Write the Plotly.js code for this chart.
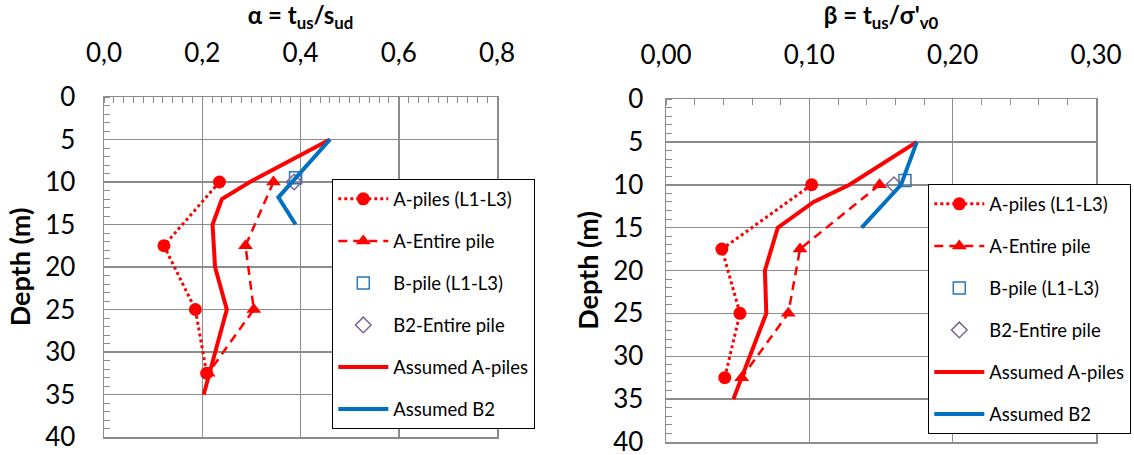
<!DOCTYPE html>
<html><head><meta charset="utf-8">
<script src="https://cdn.plot.ly/plotly-3.0.1.min.js"></script>
<style>html,body{margin:0;padding:0;background:#fff}#chart{width:1134px;height:455px}</style>
</head><body><div id="chart"></div>
<script>
// ---- Series names (legend) ----
const seriesNames = ['A-piles (L1-L3)', 'A-Entire pile', 'B-pile (L1-L3)', 'B2-Entire pile', 'Assumed A-piles', 'Assumed B2'];

// ---- Left chart: alpha = t_us / s_ud ----
const aPilesDepth = [10, 17.5, 25, 32.5];
const aPilesAlpha = [0.235, 0.122, 0.186, 0.209];
const aEntireDepth = [10, 17.5, 25, 32.5];
const aEntireAlpha = [0.345, 0.288, 0.305, 0.212];
const bPileDepth = [9.5];
const bPileAlpha = [0.39];
const b2EntireDepth = [10];
const b2EntireAlpha = [0.387];
const assumedADepth = [5, 10, 12, 15, 20, 25, 35];
const assumedAAlpha = [0.46, 0.297, 0.24, 0.221, 0.226, 0.25, 0.203];
const assumedB2Depth = [5, 11.8, 15];
const assumedB2Alpha = [0.46, 0.355, 0.39];

// ---- Right chart: beta = t_us / sigma'_v0 ----
const aPilesBeta = [0.1016, 0.039, 0.0516, 0.041];
const aEntireBeta = [0.149, 0.0935, 0.0853, 0.0528];
const bPileBeta = [0.1667];
const b2EntireBeta = [0.159];
const assumedADepthB = [5, 10, 12, 15, 20, 25, 35];
const assumedABeta = [0.175, 0.128, 0.103, 0.078, 0.069, 0.07, 0.047];
const assumedB2DepthB = [5, 10, 15];
const assumedB2Beta = [0.175, 0.164, 0.1365];

// ---- Axis tick values ----
const alphaTicks = [0, 0.2, 0.4, 0.6, 0.8];
const betaTicks = [0, 0.1, 0.2, 0.3];
const depthTicks = [0, 5, 10, 15, 20, 25, 30, 35, 40];

const RED = '#FF0000', BLUE = '#0070C0', SQ = '#2E75B6', DIA = '#7F6095';
const FONT = 'Lato, "Open Sans", sans-serif';

function makeTraces(xa, ya, leg, d) {
  const base = {xaxis: xa, yaxis: ya, legend: leg, type: 'scatter', hoverinfo: 'skip'};
  return [
    Object.assign({}, base, {name: seriesNames[0], legendgroup: leg + 'g0', x: d.ap, y: aPilesDepth, mode: 'lines+markers',
      line: {color: RED, width: 3, dash: '3px,3px'}, marker: {symbol: 'circle', size: 13, color: RED}}),
    Object.assign({}, base, {name: seriesNames[1], legendgroup: leg + 'g1', x: d.ae, y: aEntireDepth, mode: 'lines+markers',
      line: {color: RED, width: 2.5, dash: '9px,6px'}, marker: {symbol: 'triangle-up', size: 13, color: RED}}),
    Object.assign({}, base, {name: seriesNames[2], legendgroup: leg + 'g2', x: d.bp, y: bPileDepth, mode: 'markers',
      marker: {symbol: 'square-open', size: 12, color: SQ, line: {width: 1.5}}}),
    Object.assign({}, base, {name: seriesNames[3], legendgroup: leg + 'g3', x: d.be, y: b2EntireDepth, mode: 'markers',
      marker: {symbol: 'diamond-open', size: 12, color: DIA, line: {width: 1.5}}}),
    Object.assign({}, base, {name: seriesNames[4], legendgroup: leg + 'g4', x: d.aa, y: d.aaD, mode: 'lines',
      line: {color: RED, width: 4}}),
    Object.assign({}, base, {name: seriesNames[5], legendgroup: leg + 'g5', x: d.ab, y: d.abD, mode: 'lines',
      line: {color: BLUE, width: 4}})
  ];
}

const data = [].concat(
  makeTraces('x', 'y', 'legend', {ap: aPilesAlpha, ae: aEntireAlpha, bp: bPileAlpha, be: b2EntireAlpha,
    aa: assumedAAlpha, aaD: assumedADepth, ab: assumedB2Alpha, abD: assumedB2Depth}),
  makeTraces('x2', 'y2', 'legend2', {ap: aPilesBeta, ae: aEntireBeta, bp: bPileBeta, be: b2EntireBeta,
    aa: assumedABeta, aaD: assumedADepthB, ab: assumedB2Beta, abD: assumedB2DepthB})
);

const W = 1134, H = 455;
const GRID = '#8c8c8c';
function xAxis(dom, range, ticks, fmt, minorStep, title, anchor) {
  return {domain: dom, anchor: anchor, side: 'top', range: range, tickmode: 'array', tickvals: ticks, tickformat: fmt,
    showgrid: true, gridcolor: GRID, gridwidth: 1.5, showline: true, mirror: true, linecolor: GRID, linewidth: 1.5,
    zeroline: false, ticks: '', ticklabelstandoff: 23, ticklabeloverflow: 'allow',
    minor: {ticks: 'inside', dtick: minorStep, tick0: 0, ticklen: 6, tickcolor: GRID, tickwidth: 1, showgrid: false},
    tickfont: {family: FONT, size: 26, color: '#000'},
    title: {text: title, font: {family: FONT, size: 24, color: '#000'}, standoff: 8}, fixedrange: true};
}
function yAxis(dom, anchor, standoff) {
  return {domain: dom, anchor: anchor, range: [40, 0], tickmode: 'array', tickvals: depthTicks,
    showgrid: true, gridcolor: GRID, gridwidth: 1.5, showline: true, mirror: true, linecolor: GRID, linewidth: 1.5,
    zeroline: false, ticks: '', ticklabelstandoff: standoff, ticklabeloverflow: 'allow',
    minor: {ticks: 'inside', dtick: 1, tick0: 0, ticklen: 6, tickcolor: GRID, tickwidth: 1, showgrid: false},
    tickfont: {family: FONT, size: 26, color: '#000'},
    title: {text: '<b>Depth (m)</b>', font: {family: FONT, size: 27, color: '#000'}, standoff: 6}, fixedrange: true};
}

const legendBase = {xanchor: 'left', yanchor: 'top', bgcolor: '#fff', bordercolor: '#000', borderwidth: 1.3,
  font: {family: FONT, size: 18.5, color: '#000'}, tracegroupgap: 15, itemwidth: 50, traceorder: 'grouped'};

const layout = {
  width: W, height: H, paper_bgcolor: '#fff', plot_bgcolor: '#fff',
  margin: {l: 0, r: 0, t: 0, b: 0, autoexpand: false},
  separators: ', ', showlegend: true, font: {family: FONT, color: '#000'},
  xaxis: xAxis([104 / W, 497 / W], [0, 0.8], alphaTicks, '.1f', 0.02, '<b>α = t<sub>us</sub>/s<sub>ud</sub></b>', 'y'),
  yaxis: yAxis([1 - 437 / H, 1 - 97 / H], 'x', 22),
  xaxis2: xAxis([666 / W, 1096 / W], [0, 0.3], betaTicks, '.2f', 0.02, "<b>β = t<sub>us</sub>/σ'<sub>v0</sub></b>", 'y2'),
  yaxis2: yAxis([1 - 442 / H, 1 - 99 / H], 'x2', 16),
  legend: Object.assign({}, legendBase, {x: 332 / W, y: 1 - 179 / H}),
  legend2: Object.assign({}, legendBase, {x: 928 / W, y: 1 - 184 / H})
};

Plotly.newPlot('chart', data, layout, {staticPlot: true, displayModeBar: false});
</script>
</body></html>
